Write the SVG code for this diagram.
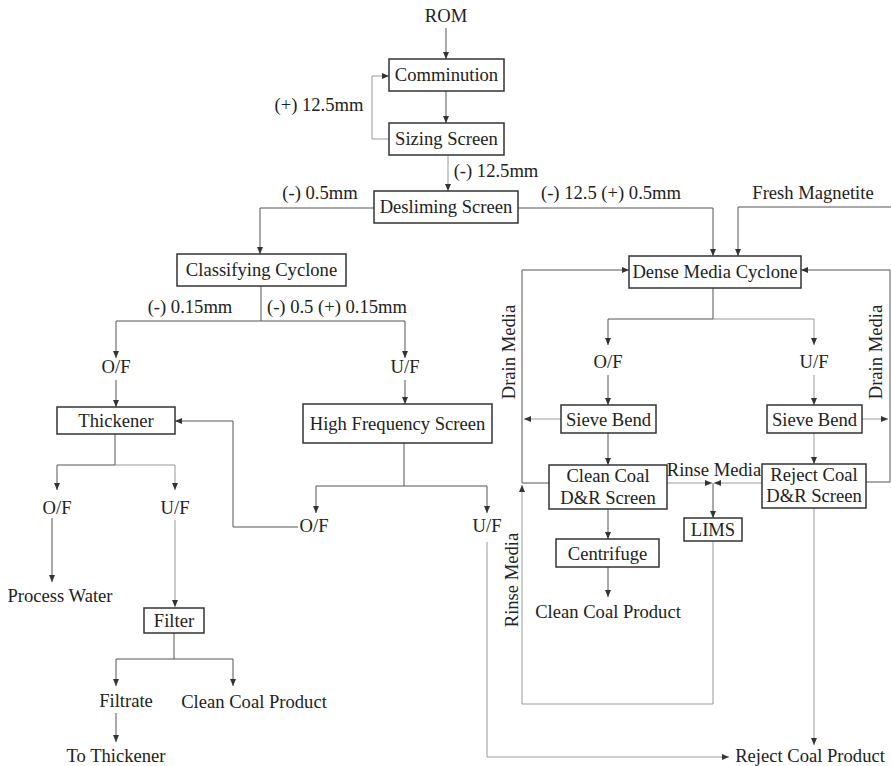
<svg xmlns="http://www.w3.org/2000/svg" width="891" height="766" viewBox="0 0 891 766">
<defs>
<marker id="ah" markerWidth="7" markerHeight="6" refX="7" refY="3" orient="auto" markerUnits="userSpaceOnUse">
<path d="M0,0 L7,3 L0,6 z" fill="#333"/>
</marker>
<style>
text{font-size:18.6px;fill:#222;text-anchor:middle}
.box{fill:#fff;stroke:#333;stroke-width:1.5}
.c{fill:none;stroke:#555;stroke-width:1}
.g{fill:none;stroke:#999;stroke-width:1}
.a{marker-end:url(#ah)}
</style>
</defs>
<rect width="891" height="766" fill="#fff"/>
<g id="connectors">
<path class="c a" d="M446,28 V59"/>
<path class="c a" d="M446,91 V123"/>
<path class="g a" d="M389,139 H372 V76 H389"/>
<path class="g a" d="M448,155 V191"/>
<path class="c a" d="M374,208 H260 V254"/>
<path class="c a" d="M518,208 H713 V256"/>
<path class="c a" d="M891,207 H738 V256"/>
<path class="c" d="M261,286 V321"/>
<path class="c a" d="M261,321 H116 V358"/>
<path class="c a" d="M261,321 H405 V358"/>
<path class="c a" d="M116,380 V407"/>
<path class="c a" d="M405,380 V404"/>
<path class="c" d="M115,434 V465"/>
<path class="c a" d="M115,465 H57 V490"/>
<path class="g a" d="M115,465 H175 V490"/>
<path class="c a" d="M52,518 V582"/>
<path class="g a" d="M175,520 V607"/>
<path class="c" d="M174,633 V659"/>
<path class="c a" d="M174,659 H116 V686"/>
<path class="c a" d="M174,659 H233 V686"/>
<path class="c a" d="M116,713 V742"/>
<path class="c a" d="M298,527 H233 V421 H175"/>
<path class="c" d="M404,443 V486"/>
<path class="c a" d="M404,486 H316 V513"/>
<path class="c a" d="M404,486 H487 V513"/>
<path class="g a" d="M487,542 V757 H729"/>
<path class="c a" d="M522,483 V270 H629"/>
<path class="c a" d="M890,482 V270 H801"/>
<path class="c" d="M713,288 V319"/>
<path class="c a" d="M713,319 H608 V345"/>
<path class="g a" d="M713,319 H814 V345"/>
<path class="c a" d="M608,375 V405"/>
<path class="g a" d="M814,375 V405"/>
<path class="g a" d="M561,419 H524"/>
<path class="g a" d="M862,419 H888"/>
<path class="c a" d="M608,433 V465"/>
<path class="g a" d="M814,433 V464"/>
<path class="c" d="M549,483 H522"/>
<path class="c" d="M866,482 H890"/>
<path class="g a" d="M667,483 H712"/>
<path class="g a" d="M762,483 H714"/>
<path class="c a" d="M713,483 V518"/>
<path class="g a" d="M713,541 V704 H522 V485"/>
<path class="c a" d="M608,509 V539"/>
<path class="c a" d="M608,567 V597"/>
<path class="g a" d="M814,508 V745"/>
</g>
<g font-family="'Liberation Serif', 'Times New Roman', Times, serif">
<g id="labels">
<text x="446" y="22">ROM</text>
<text x="319" y="111">(+) 12.5mm</text>
<text x="496" y="177">(-) 12.5mm</text>
<text x="320" y="199">(-) 0.5mm</text>
<text x="611" y="199">(-) 12.5 (+) 0.5mm</text>
<text x="813" y="199">Fresh Magnetite</text>
<text x="190" y="313">(-) 0.15mm</text>
<text x="337" y="313">(-) 0.5 (+) 0.15mm</text>
<text x="116" y="373">O/F</text>
<text x="405" y="373">U/F</text>
<text x="57" y="514">O/F</text>
<text x="175" y="514">U/F</text>
<text x="60" y="602">Process Water</text>
<text x="126" y="707">Filtrate</text>
<text x="254" y="708">Clean Coal Product</text>
<text x="116" y="762">To Thickener</text>
<text x="314" y="532">O/F</text>
<text x="487" y="532">U/F</text>
<text x="608" y="368">O/F</text>
<text x="814" y="368">U/F</text>
<text x="714" y="476">Rinse Media</text>
<text x="608" y="618">Clean Coal Product</text>
<text x="810" y="762">Reject Coal Product</text>
<text transform="translate(515,352) rotate(-90)">Drain Media</text>
<text transform="translate(882,352) rotate(-90)">Drain Media</text>
<text transform="translate(518,580) rotate(-90)">Rinse Media</text>
</g>
<g id="comminution"><rect class="box" x="389" y="59" width="115" height="32"/><text x="446.5" y="81">Comminution</text></g>
<g id="sizing-screen"><rect class="box" x="389" y="123" width="115" height="32"/><text x="446.5" y="145">Sizing Screen</text></g>
<g id="desliming-screen"><rect class="box" x="374" y="191" width="144" height="32"/><text x="446" y="213">Desliming Screen</text></g>
<g id="classifying-cyclone"><rect class="box" x="177" y="254" width="169" height="32"/><text x="261.5" y="276">Classifying Cyclone</text></g>
<g id="thickener"><rect class="box" x="57" y="407" width="118" height="27"/><text x="116" y="427">Thickener</text></g>
<g id="hf-screen"><rect class="box" x="303" y="404" width="189" height="39"/><text x="397.5" y="430">High Frequency Screen</text></g>
<g id="filter"><rect class="box" x="144" y="608" width="60" height="25"/><text x="174" y="627">Filter</text></g>
<g id="dm-cyclone"><rect class="box" x="629" y="256" width="172" height="32"/><text x="715" y="278">Dense Media Cyclone</text></g>
<g id="sieve-bend-1"><rect class="box" x="561" y="405" width="95" height="28"/><text x="608.5" y="426">Sieve Bend</text></g>
<g id="sieve-bend-2"><rect class="box" x="767" y="405" width="95" height="28"/><text x="814.5" y="426">Sieve Bend</text></g>
<g id="clean-dr-screen"><rect class="box" x="549" y="465" width="118" height="44"/><text x="608" y="482">Clean Coal</text><text x="608" y="504">D&amp;R Screen</text></g>
<g id="reject-dr-screen"><rect class="box" x="762" y="464" width="104" height="44"/><text x="814" y="481">Reject Coal</text><text x="814" y="502">D&amp;R Screen</text></g>
<g id="lims"><rect class="box" x="684" y="518" width="58" height="23"/><text x="713" y="536">LIMS</text></g>
<g id="centrifuge"><rect class="box" x="556" y="539" width="103" height="28"/><text x="607.5" y="560">Centrifuge</text></g>
</g>
</svg>
